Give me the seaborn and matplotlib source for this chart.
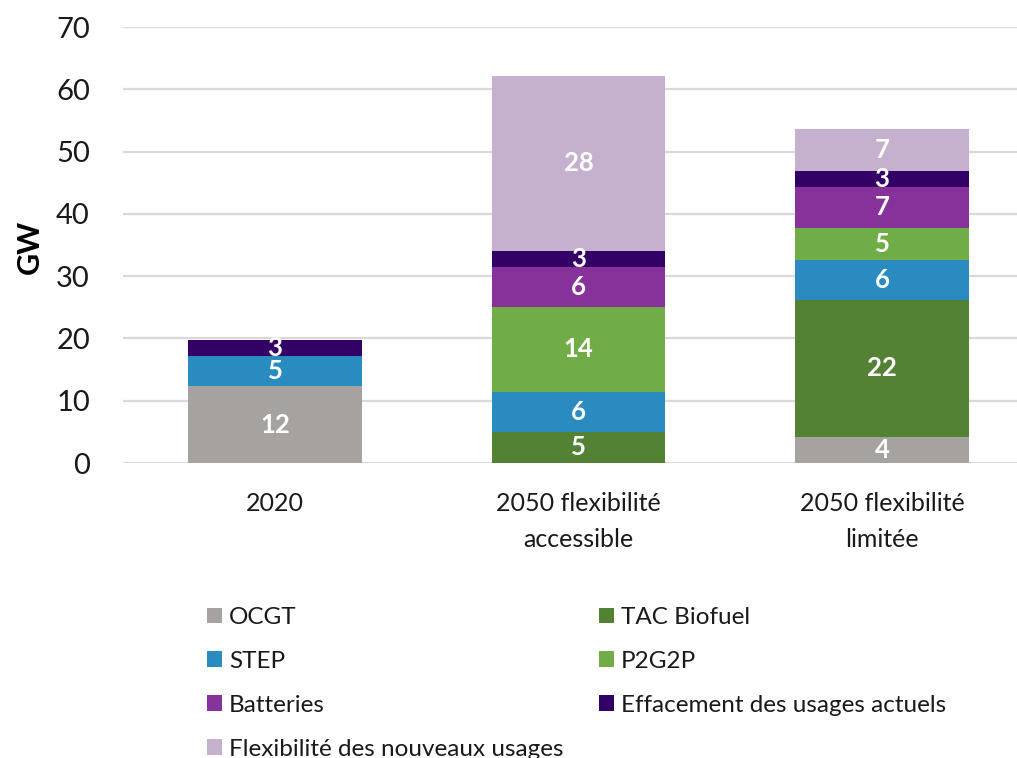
import matplotlib
matplotlib.use("Agg")
import matplotlib.pyplot as plt
from matplotlib.patches import Patch
import numpy as np
import pandas as pd
import seaborn as sns

# Scenarios on the x axis
scenarios = ["2020", "2050 flexibilité\naccessible", "2050 flexibilité\nlimitée"]

# Capacity per technology (GW), stacked from bottom to top
series_names = [
    "OCGT",
    "TAC Biofuel",
    "STEP",
    "P2G2P",
    "Batteries",
    "Effacement des usages actuels",
    "Flexibilité des nouveaux usages",
]
ocgt = [12.3, 0.0, 4.2]
tac_biofuel = [0.0, 5.0, 22.05]
step = [4.9, 6.45, 6.4]
p2g2p = [0.0, 13.6, 5.1]
batteries = [0.0, 6.4, 6.6]
effacement = [2.6, 2.6, 2.6]
flex_nouveaux = [0.0, 28.1, 6.7]

yticks = [0, 10, 20, 30, 40, 50, 60, 70]

colors = ["#A5A2A0", "#548235", "#2A8BC1", "#70AD47", "#87329A", "#330066", "#C5B0CD"]

values = [ocgt, tac_biofuel, step, p2g2p, batteries, effacement, flex_nouveaux]

sns.set_theme(style="white")
plt.rcParams["font.family"] = ["Lato", "DejaVu Sans"]

fig = plt.figure(figsize=(10.17, 7.58), dpi=100)
ax = fig.add_axes([123.25 / 1017, (758 - 463) / 758, (1017 - 123.25) / 1017, (463 - 27) / 758])

df = pd.DataFrame({name: vals for name, vals in zip(series_names, values)})
df["scenario"] = scenarios
cum = df[series_names].cumsum(axis=1)

# Draw the stack top-down: each layer is the cumulative total up to that series
for name, color in reversed(list(zip(series_names, colors))):
    sns.barplot(
        x=df["scenario"], y=cum[name], color=color, saturation=1,
        width=0.573, errorbar=None, ax=ax, zorder=2, linewidth=0,
    )

# Centered value labels inside each segment
for i in range(len(scenarios)):
    bottom = 0.0
    for name in series_names:
        v = df.loc[i, name]
        if v > 0:
            ax.text(i, bottom + v / 2, f"{v:.0f}", ha="center", va="center",
                    color="white", fontsize=18.5, fontweight="bold", zorder=3)
        bottom += v

ax.set_xlim(-0.5, (1017 - 275) / 303.5)
ax.set_ylim(0, 70)
ax.set_yticks(yticks)
ax.set_yticklabels([str(t) for t in yticks], fontsize=21, color="#1a1a1a")
ax.tick_params(axis="x", labelsize=18, colors="#1a1a1a", length=0, pad=21)
ax.tick_params(axis="y", length=0, pad=24)
ax.set_xlabel("")
ax.set_ylabel("")
ax.yaxis.grid(True, color="#D9D9D9", linewidth=1.6, zorder=0)
ax.set_axisbelow(True)
for s in ax.spines.values():
    s.set_visible(False)
for lbl in ax.get_xticklabels():
    lbl.set_linespacing(1.65)

fig.text(30 / 1017, 1 - 247 / 758, "GW", rotation=90, ha="center", va="center",
         fontsize=22, fontweight="bold", color="#000000")

handles = [Patch(facecolor=c, edgecolor="none") for c in colors]
# Column-major order so rows read OCGT | TAC Biofuel, STEP | P2G2P, ...
order = [0, 2, 4, 6, 1, 3, 5]
fig.legend(
    [handles[k] for k in order], [series_names[k] for k in order],
    ncol=2, loc="upper left", bbox_to_anchor=(207 / 1017, 1 - 607 / 758),
    frameon=False, fontsize=17.5, handlelength=0.62, handleheight=0.62,
    handletextpad=0.29, labelspacing=0.94, columnspacing=1.44,
    borderpad=0, borderaxespad=0, labelcolor="#1a1a1a",
)

fig.savefig("out.png", dpi=100)
